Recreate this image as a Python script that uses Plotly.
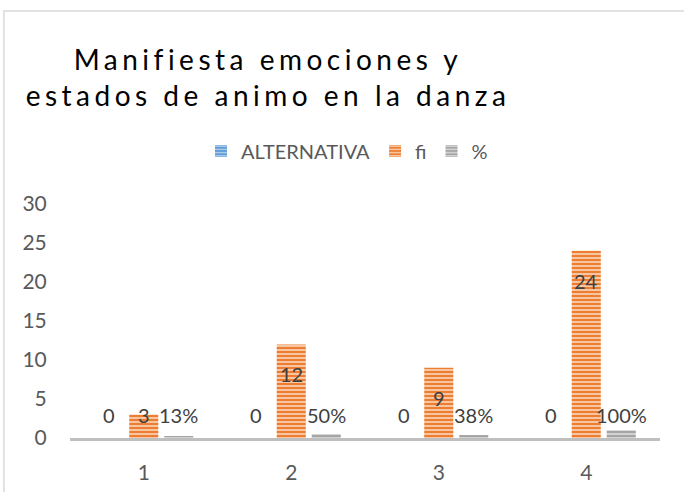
import plotly.graph_objects as go

categories = [1, 2, 3, 4]
alternativa = [0, 0, 0, 0]
fi = [3, 12, 9, 24]
pct = [0.13, 0.50, 0.38, 1.00]
pct_labels = ["13%", "50%", "38%", "100%"]

title_lines = ["Manifiesta emociones y", "estados de animo en la danza"]

FONT = "Lato"
label_color = "#404040"

series = [
    ("ALTERNATIVA", alternativa, [str(v) for v in alternativa], "#5B9BD5", "#B4D0EC", -0.237),
    ("fi", fi, [str(v) for v in fi], "#ED7D31", "#F9CDAE", 0.0),
    ("%", pct, pct_labels, "#A5A5A5", "#D6D6D6", 0.237),
]

fig = go.Figure()
annotations = []
for name, vals, texts, base, light, off in series:
    fig.add_trace(go.Bar(
        x=categories, y=vals, name=name,
        marker=dict(color=base, line=dict(width=0),
                    pattern=dict(shape="-", bgcolor=base, fgcolor=light,
                                 size=4, solidity=0.45, fillmode="replace")),
        hoverinfo="skip",
    ))
    # data labels sit a bit below the bar top, never lower than ~3 units
    for c, v, t in zip(categories, vals, texts):
        annotations.append(dict(
            x=c + off, y=max(v - 3.85, 3), xref="x", yref="y",
            text=t, showarrow=False, yanchor="middle",
            font=dict(family=FONT, size=20, color=label_color),
        ))

title_html = "<br>".join(
    '<span style="letter-spacing:4.5px">%s</span>' % s for s in title_lines)

fig.update_layout(
    width=684, height=492,
    margin=dict(l=70, r=24, t=204, b=54, autoexpand=False),
    paper_bgcolor="white", plot_bgcolor="white",
    barmode="group", bargap=0.288, bargroupgap=0.17,
    font=dict(family=FONT, color="#595959"),
    title=dict(text=title_html, x=268 / 684, xanchor="center", xref="container",
               y=1 - 70 / 492, yanchor="top", yref="container",
               font=dict(family=FONT, size=28, color="#000000")),
    legend=dict(orientation="h", x=347 / 684, xanchor="center", xref="container",
                y=1 - 151 / 492, yanchor="middle", yref="container",
                font=dict(family=FONT, size=20, color="#595959"),
                itemwidth=30, traceorder="normal"),
    annotations=annotations,
    shapes=[dict(type="rect", xref="paper", yref="paper",
                 x0=-0.112, x1=1.2, y0=-0.5, y1=1.825,
                 line=dict(color="#D9D9D9", width=1.5), layer="below")],
)

fig.update_xaxes(range=[0.5, 4.5], tickvals=categories, showgrid=False,
                 showline=True, linecolor="#BFBFBF", linewidth=3,
                 ticks="outside", ticklen=14, tickcolor="rgba(0,0,0,0)",
                 tickfont=dict(family=FONT, size=21, color="#595959"),
                 zeroline=False)
fig.update_yaxes(range=[0, 30], dtick=5, showgrid=False, showline=False,
                 zeroline=False, ticks="outside", ticklen=18,
                 tickcolor="rgba(0,0,0,0)",
                 tickfont=dict(family=FONT, size=21, color="#595959"))

fig.write_html("out.html", config={"displayModeBar": False},
               post_script="document.body.style.margin='0';")
